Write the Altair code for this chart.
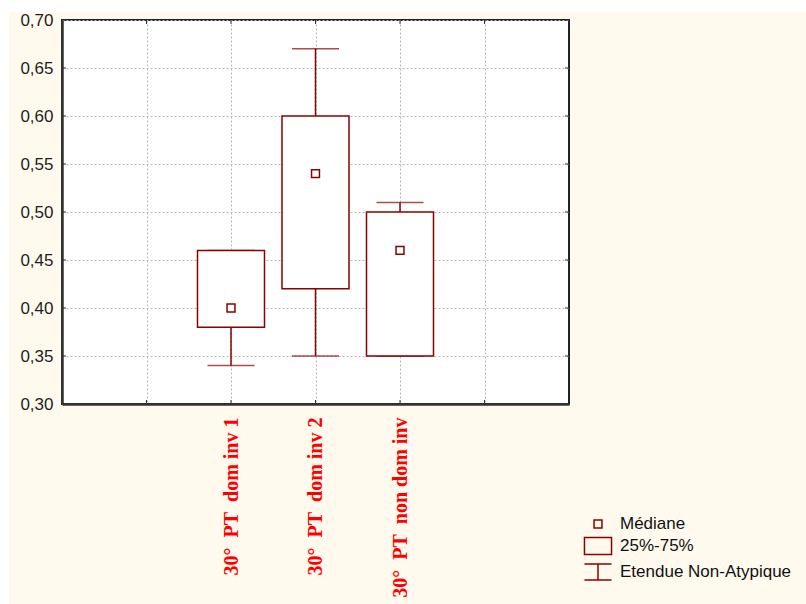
import altair as alt
import pandas as pd

# Groups and their box-plot statistics
categories = [
    "30°\u00a0\u00a0PT\u00a0\u00a0dom inv 1",
    "30°\u00a0\u00a0PT\u00a0\u00a0dom inv 2",
    "30°\u00a0\u00a0PT\u00a0\u00a0non dom inv",
]
medians = [0.40, 0.54, 0.46]
q1 = [0.38, 0.42, 0.35]
q3 = [0.46, 0.60, 0.50]
whisker_low = [0.34, 0.35, 0.35]
whisker_high = [0.46, 0.67, 0.51]

y_ticks = [0.30, 0.35, 0.40, 0.45, 0.50, 0.55, 0.60, 0.65, 0.70]
legend_labels = ["Médiane", "25%-75%", "Etendue Non-Atypique"]

# Empty slots on each side of the three groups
slots = [" "] + categories + ["  "]

W, H = 507, 384
DARK_RED = "#8b0000"
CREAM = "#fff9ee"

df = pd.DataFrame({
    "group": categories,
    "median": medians,
    "q1": q1,
    "q3": q3,
    "lo": whisker_low,
    "hi": whisker_high,
    "item": [legend_labels[0]] * len(categories),
})
ticks_y = pd.DataFrame({"v": y_ticks})
ticks_x = pd.DataFrame({"group": slots})
one = pd.DataFrame({"k": [0]})

x_scale = alt.Scale(type="point", domain=slots, padding=1)
y_scale = alt.Scale(domain=[0.30, 0.70], nice=False, zero=False)

x_axis = alt.Axis(
    title=None, ticks=False, grid=True, labelAngle=270, labelAlign="right",
    labelBaseline="middle", labelPadding=13, labelColor="#ff0000",
    labelFont="Liberation Serif", labelFontWeight="bold", labelFontSize=20,
    labelOverlap=False, labelFlush=False, labelBound=False, labelLimit=0,
    domainColor="#333333", domainWidth=2.5,
    gridColor="#b8b8b8", gridDash=[2, 2], gridWidth=1,
)
y_axis = alt.Axis(
    title=None, ticks=False, grid=True, values=y_ticks,
    labelExpr="replace(format(datum.value, '.2f'), '.', ',')",
    labelFont="Liberation Sans", labelFontSize=17, labelColor="#1e1e1e",
    labelPadding=9, labelFlush=False, labelOverlap=False,
    domainColor="#333333", domainWidth=2.5,
    gridColor="#b8b8b8", gridDash=[2, 2], gridWidth=1,
)

X = alt.X("group:N", scale=x_scale, axis=x_axis, sort=slots)
base = alt.Chart(df)

# Legend symbols: small square, box, whisker (custom paths in unit space)
shape_paths = [
    "M-0.36,-0.36H0.36V0.36H-0.36Z",
    "M-1.23,-0.77H1.23V0.77H-1.23Z",
    "M-1.23,-0.73H1.23M0,-0.73V0.73M-1.23,0.73H1.23",
]

whiskers = base.mark_rule(color=DARK_RED, strokeWidth=1.5).encode(
    x=X, y=alt.Y("lo:Q", scale=y_scale, axis=y_axis), y2="hi:Q"
)
cap_low = base.mark_tick(orient="horizontal", size=47, thickness=1.5, color=DARK_RED).encode(
    x=X, y=alt.Y("lo:Q", scale=y_scale)
)
cap_high = base.mark_tick(orient="horizontal", size=47, thickness=1.5, color=DARK_RED).encode(
    x=X, y=alt.Y("hi:Q", scale=y_scale)
)
boxes = base.mark_bar(size=67, fill="white", stroke=DARK_RED, strokeWidth=1.5).encode(
    x=X, y=alt.Y("q1:Q", scale=y_scale), y2="q3:Q"
)
median_pts = base.mark_point(filled=False, size=484, strokeWidth=1.5, color=DARK_RED, opacity=1).encode(
    x=X,
    y=alt.Y("median:Q", scale=y_scale),
    shape=alt.Shape(
        "item:N",
        scale=alt.Scale(domain=legend_labels, range=shape_paths),
        legend=alt.Legend(
            title=None, orient="none", legendX=524, legendY=492,
            symbolSize=484, symbolStrokeColor=DARK_RED, symbolFillColor="transparent",
            symbolStrokeWidth=1.5, labelFont="Liberation Sans", labelFontSize=17,
            labelColor="#111111", labelOffset=10, rowPadding=2, padding=0,
            labelLimit=300,
        ),
    ),
)

# Inward tick marks on all four sides of the frame
tick_left = alt.Chart(ticks_y).mark_rule(color="#333333", strokeWidth=1).encode(
    y=alt.Y("v:Q", scale=y_scale), x=alt.value(0), x2=alt.value(4)
)
tick_right = alt.Chart(ticks_y).mark_rule(color="#333333", strokeWidth=1).encode(
    y=alt.Y("v:Q", scale=y_scale), x=alt.value(W - 4), x2=alt.value(W)
)
tick_bottom = alt.Chart(ticks_x).mark_rule(color="#333333", strokeWidth=1).encode(
    x=X, y=alt.value(H - 4), y2=alt.value(H)
)
tick_top = alt.Chart(ticks_x).mark_rule(color="#333333", strokeWidth=1).encode(
    x=X, y=alt.value(0), y2=alt.value(4)
)

# White page margin along the top and left edges
margin_top = alt.Chart(one).mark_rect(color="white").encode(
    x=alt.value(-62), x2=alt.value(W + 237), y=alt.value(-20), y2=alt.value(-8)
)
margin_left = alt.Chart(one).mark_rect(color="white").encode(
    x=alt.value(-62), x2=alt.value(-53), y=alt.value(-20), y2=alt.value(H + 200)
)

chart = alt.layer(
    margin_top, margin_left,
    whiskers, cap_low, cap_high, boxes, median_pts,
    tick_left, tick_right, tick_bottom, tick_top,
).properties(
    width=W, height=H,
    autosize=alt.AutoSizeParams(type="none"),
    padding={"left": 62, "top": 20, "right": 237, "bottom": 200},
    background=CREAM,
).configure_view(
    fill="white", stroke="#222222", strokeWidth=2
)

chart.save("out.html", embed_options={"renderer": "svg", "actions": False})
